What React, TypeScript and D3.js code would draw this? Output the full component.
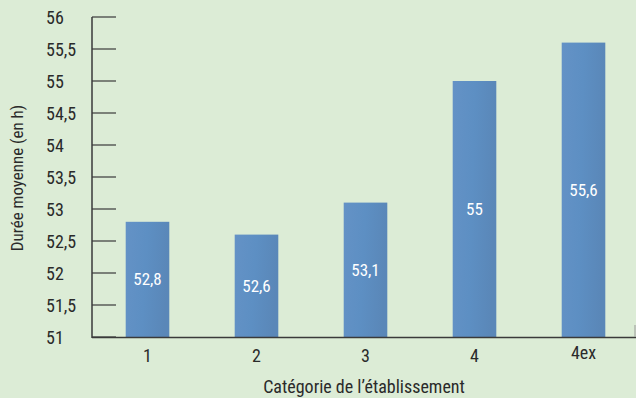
import React from "react";
import * as d3 from "d3";

const categories = ["1", "2", "3", "4", "4ex"];
const values = [52.8, 52.6, 53.1, 55, 55.6];
const valueLabels = ["52,8", "52,6", "53,1", "55", "55,6"];
const yTicks = [51, 51.5, 52, 52.5, 53, 53.5, 54, 54.5, 55, 55.5, 56];

const W = 636;
const H = 398;
const FONT = "'Liberation Sans Narrow', 'Arial Narrow', 'Roboto Condensed', 'Liberation Sans', sans-serif";

export default function App() {
  const x = d3.scaleBand<string>().domain(categories).range([93, 638]).paddingInner(0.6).paddingOuter(0.3);
  const y = d3.scaleLinear().domain([51, 56]).range([337, 17]);
  const fmt = (v: number) => String(v).replace(".", ",");
  const axisX = 92;
  return (
    <svg width={W} height={H} style={{ position: "absolute", left: 0, top: 0, display: "block" }}>
      <defs>
        <linearGradient id="barg" x1="0" y1="0" x2="1" y2="0.15">
          <stop offset="0" stopColor="#6492c6" />
          <stop offset="0.5" stopColor="#5d8fc3" />
          <stop offset="1" stopColor="#5a87b8" />
        </linearGradient>
      </defs>
      <rect x={0} y={0} width={W} height={H} fill="#dcecd6" />
      {categories.map((c, i) => (
        <rect key={c} x={x(c)} y={y(values[i])} width={x.bandwidth()} height={y(51) - y(values[i])} fill="url(#barg)" />
      ))}
      {categories.map((c, i) => (
        <text key={"l" + c} x={(x(c) as number) + x.bandwidth() / 2} y={(y(values[i]) + y(51)) / 2} textAnchor="middle" dominantBaseline="central" fill="#ffffff" fontFamily={FONT} fontSize={17}>
          {valueLabels[i]}
        </text>
      ))}
      <line x1={axisX} x2={axisX} y1={y(56)} y2={y(51) + 1} stroke="#3a3a3a" strokeWidth={1.5} />
      {yTicks.map((t) => (
        <g key={t}>
          <line x1={axisX} x2={116} y1={y(t)} y2={y(t)} stroke="#3a3a3a" strokeWidth={1.2} />
          <text x={46} y={y(t)} dominantBaseline="central" fill="#2a2a2a" fontFamily={FONT} fontSize={18}>
            {fmt(t)}
          </text>
        </g>
      ))}
      <line x1={axisX} x2={W} y1={y(51) + 0.5} y2={y(51) + 0.5} stroke="#3a3a3a" strokeWidth={1.5} />
      <line x1={635} x2={635} y1={325} y2={337} stroke="#9a9a9a" strokeWidth={1} />
      {categories.map((c) => (
        <text key={"t" + c} x={(x(c) as number) + x.bandwidth() / 2} y={c === "4ex" ? 352 : 355} textAnchor="middle" dominantBaseline="central" fill="#2a2a2a" fontFamily={FONT} fontSize={18}>
          {c}
        </text>
      ))}
      <text x={364} y={393} textAnchor="middle" fill="#2a2a2a" fontFamily={FONT} fontSize={18}>
        Catégorie de l’établissement
      </text>
      <text transform={`translate(23,178) rotate(-90)`} textAnchor="middle" fill="#2a2a2a" fontFamily={FONT} fontSize={17}>
        Durée moyenne (en h)
      </text>
    </svg>
  );
}
